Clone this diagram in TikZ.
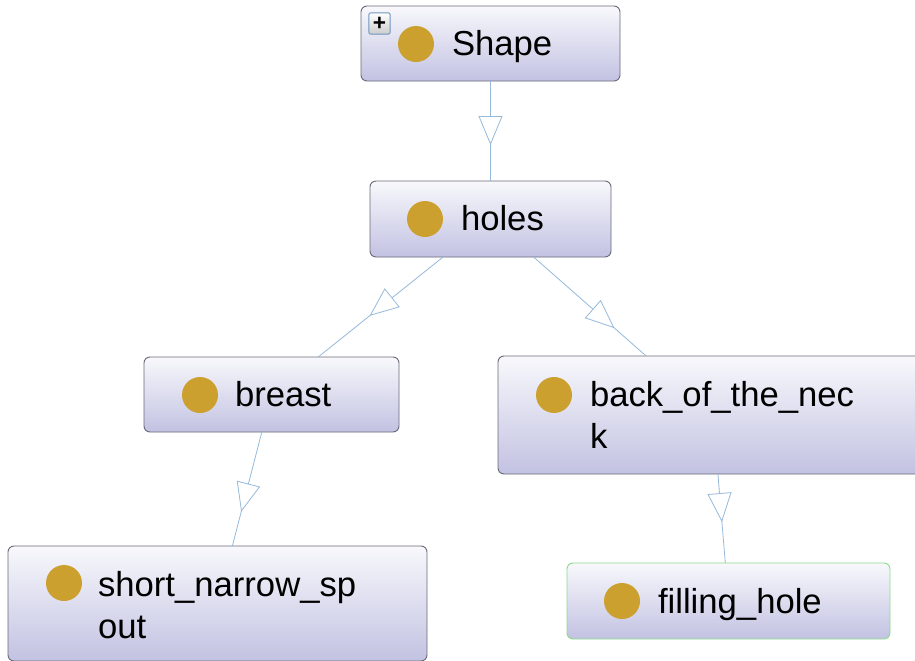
\documentclass[tikz,border=0pt]{standalone}
\usepackage{fontspec}
\setmainfont{Liberation Sans}
\usetikzlibrary{arrows.meta,decorations.markings}
\definecolor{edgecol}{RGB}{150,185,220}
\definecolor{boxtop}{RGB}{248,248,252}
\definecolor{boxbot}{RGB}{194,194,226}
\definecolor{boxline}{RGB}{105,105,120}
\definecolor{greenline}{RGB}{140,220,140}
\definecolor{dotcol}{RGB}{204,160,46}
\definecolor{plusline}{RGB}{110,150,190}
\tikzset{
  box/.style={rectangle, rounded corners=4.5pt, draw=boxline, line width=0.7pt,
    top color=boxtop, bottom color=boxbot, inner sep=0pt, outer sep=0pt},
  dot/.style={circle, fill=dotcol, minimum size=27pt, inner sep=0pt},
  lbl/.style={inner sep=0pt, outer sep=0pt, font=\fontsize{26}{31.5}\selectfont, align=left},
  edge/.style={draw=edgecol, line width=0.6pt, postaction={decorate},
    decoration={markings, mark=at position #1 with {\arrow[edgecol, line width=0.6pt]{Triangle[length=21.75pt, width=18pt, fill=white]}}}},
  plusbox/.style={rectangle, rounded corners=1.5pt, draw=plusline, line width=0.7pt,
    top color=white, bottom color=black!20, minimum size=16pt, inner sep=0pt,
    font=\fontsize{17}{17}\selectfont\bfseries}
}
\begin{document}
\begin{tikzpicture}[x=0.75pt,y=-0.75pt]
\clip (0,0) rectangle (915,661);
\fill[white] (0,0) rectangle (915,661);

% boxes
\node[box, minimum width=194.25pt, minimum height=56.25pt] (shape) at (490.5,43.5) {};
\node[box, minimum width=180.75pt, minimum height=57pt] (holes) at (490.5,219) {};
\node[box, minimum width=191.25pt, minimum height=56.25pt] (breast) at (271.5,394.5) {};
\node[box, minimum width=322.5pt, minimum height=88.5pt] (back) at (713,415) {};
\node[box, minimum width=314.25pt, minimum height=86.25pt] (short) at (217.5,603.5) {};
\node[box, draw=greenline, minimum width=242.25pt, minimum height=57pt] (filling) at (728.5,601) {};

% connectors
\draw[edge=0.64] (shape) -- (holes);
\draw[edge=0.59] (holes) -- (breast);
\draw[edge=0.72] (holes) -- (back);
\draw[edge=0.70] (breast) -- (short);
\draw[edge=0.54] (back) -- (filling);

% dots
\node[dot] (dshape) at (416,44) {};
\node[dot] (dholes) at (425,219) {};
\node[dot] (dbreast) at (200,395) {};
\node[dot] (dback) at (554,395) {};
\node[dot] (dshort) at (64,583) {};
\node[dot] (dfilling) at (622,601) {};

% labels
\node[lbl, anchor=base west] (tshape) at (452,55) {Shape};
\node[lbl, anchor=base west] (tholes) at (461,230) {holes};
\node[lbl, anchor=base west] (tbreast) at (235,406) {breast};
\node[lbl, anchor=base west] (tback) at (590,448) {back\_of\_the\_nec\\k};
\node[lbl, anchor=base west] (tshort) at (98,638) {short\_narrow\_sp\\out};
\node[lbl, anchor=base west] (tfilling) at (658,613) {filling\_hole};

% expand icon
\node[plusbox] (plus) at (379.5,23.5) {+};
\end{tikzpicture}
\end{document}
